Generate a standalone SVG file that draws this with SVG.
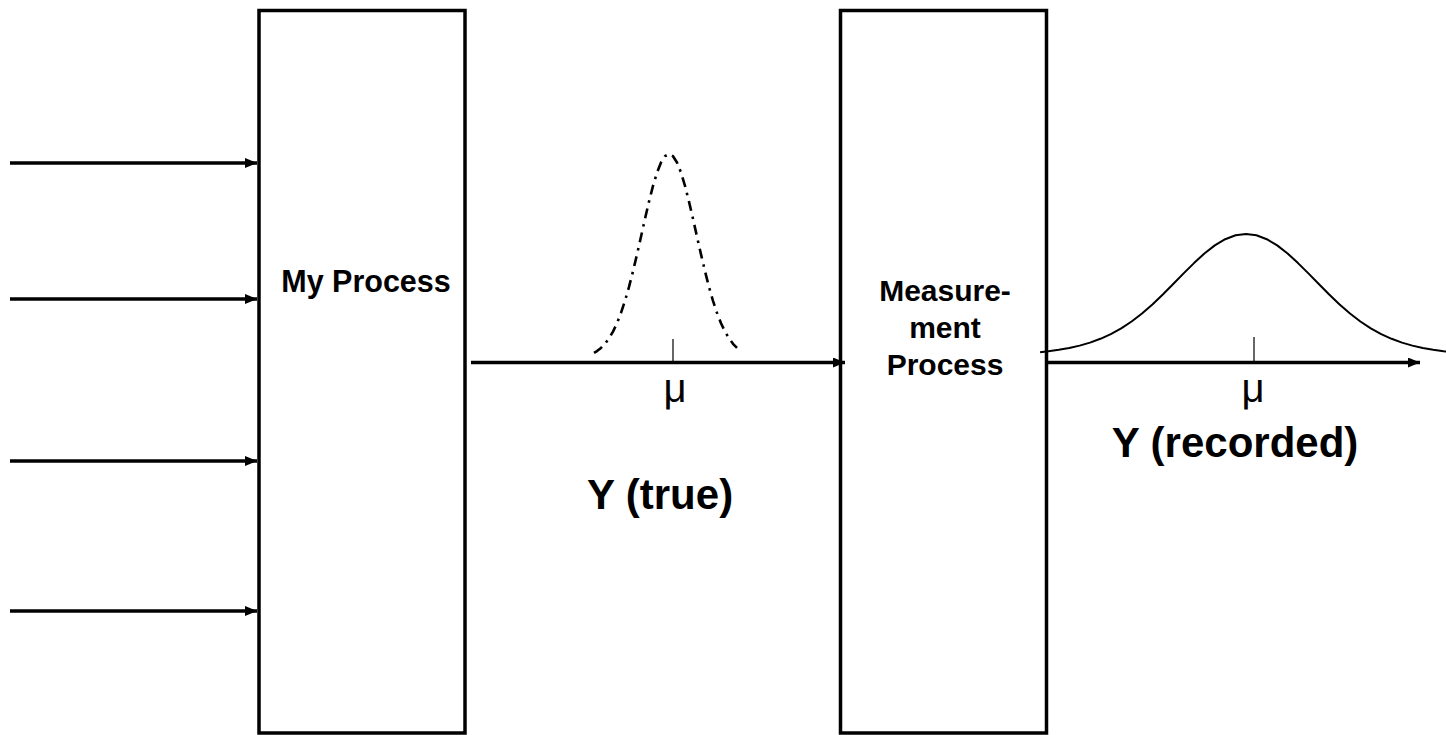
<svg xmlns="http://www.w3.org/2000/svg" width="1446" height="735" viewBox="0 0 1446 735">
<style>
.box{fill:#fff;stroke:#000;stroke-width:3.5}
.arr{fill:none;stroke:#000;stroke-width:3.5}
.lbl{font-family:"Liberation Sans",Arial,sans-serif;font-weight:bold;fill:#000}
.mu{font-family:"Liberation Sans",Arial,sans-serif;font-size:40px;fill:#000}
.tick{stroke:#000;stroke-width:1.2}
.curve{fill:none;stroke:#000;stroke-width:2;stroke-linejoin:round}
.dashed{stroke-width:2.6;stroke-dasharray:10 6 2.5 6}
</style>
<defs>
<marker id="ah" markerUnits="userSpaceOnUse" markerWidth="12" markerHeight="10" refX="12" refY="5" orient="auto">
<path d="M0,0 L12,5 L0,10 Z" fill="#000"/>
</marker>
</defs>
<rect width="1446" height="735" fill="#fff"/>
<g id="my-process">
<rect class="box" x="259" y="10.5" width="206" height="722.5"/>
<text class="lbl" x="366" y="292" font-size="30.5" text-anchor="middle">My Process</text>
</g>
<g id="measurement-process">
<rect class="box" x="840.5" y="10.5" width="206" height="722.5"/>
<text class="lbl" font-size="30" text-anchor="middle"><tspan x="945" y="301">Measure-</tspan><tspan x="945" y="338">ment</tspan><tspan x="945" y="375">Process</tspan></text>
</g>
<g id="connectors">
<line class="arr" x1="10" y1="163" x2="257" y2="163" marker-end="url(#ah)"/>
<line class="arr" x1="10" y1="299" x2="257" y2="299" marker-end="url(#ah)"/>
<line class="arr" x1="10" y1="461" x2="257" y2="461" marker-end="url(#ah)"/>
<line class="arr" x1="10" y1="611" x2="257" y2="611" marker-end="url(#ah)"/>
<line class="arr" x1="471" y1="362.5" x2="845" y2="362.5" marker-end="url(#ah)"/>
<line class="arr" x1="1048" y1="362.5" x2="1420" y2="362.5" marker-end="url(#ah)"/>
</g>
<g id="true-distribution">
<polyline class="curve dashed" points="594,352.9 597,351.1 601,347.9 605,343.8 609,338.4 613,331.6 617,323.2 621,312.9 625,300.8 629,286.9 633,271.3 637,254.4 641,236.7 645,218.8 649,201.6 653,185.9 657,172.6 661,162.5 665,156.2 669,154 673,156.2 677,162.5 681,172.6 685,185.9 689,201.6 693,218.8 697,236.7 701,254.4 705,271.3 709,286.9 713,300.8 717,312.9 721,323.2 725,331.6 729,338.4 733,343.8 737,347.9"/>
<line class="tick" x1="673" y1="339" x2="673" y2="362"/>
<text class="mu" x="675" y="402" text-anchor="middle">μ</text>
<text class="lbl" x="660" y="509" font-size="42" text-anchor="middle">Y (true)</text>
</g>
<g id="recorded-distribution">
<polyline class="curve" points="1040.1,352.2 1048.4,351.3 1058.8,349.8 1069.2,348 1079.6,345.6 1090,342.6 1100.4,338.8 1110.8,334.1 1121.2,328.4 1131.6,321.5 1142,313.5 1152.4,304.5 1162.8,294.5 1173.2,284 1183.6,273.4 1194,263.1 1204.4,253.5 1214.8,245.4 1225.2,239.2 1235.6,235.3 1246,234 1256.4,235.3 1266.8,239.2 1277.2,245.4 1287.6,253.5 1298,263.1 1308.4,273.4 1318.8,284 1329.2,294.5 1339.6,304.5 1350,313.5 1360.4,321.5 1370.8,328.4 1381.2,334.1 1391.6,338.8 1402,342.6 1412.4,345.6 1422.8,348 1433.2,349.8 1443.6,351.3 1455,352.6"/>
<line class="tick" x1="1254" y1="337" x2="1254" y2="362"/>
<text class="mu" x="1253" y="402" text-anchor="middle">μ</text>
<text class="lbl" x="1235" y="457" font-size="42" text-anchor="middle">Y (recorded)</text>
</g>
</svg>
